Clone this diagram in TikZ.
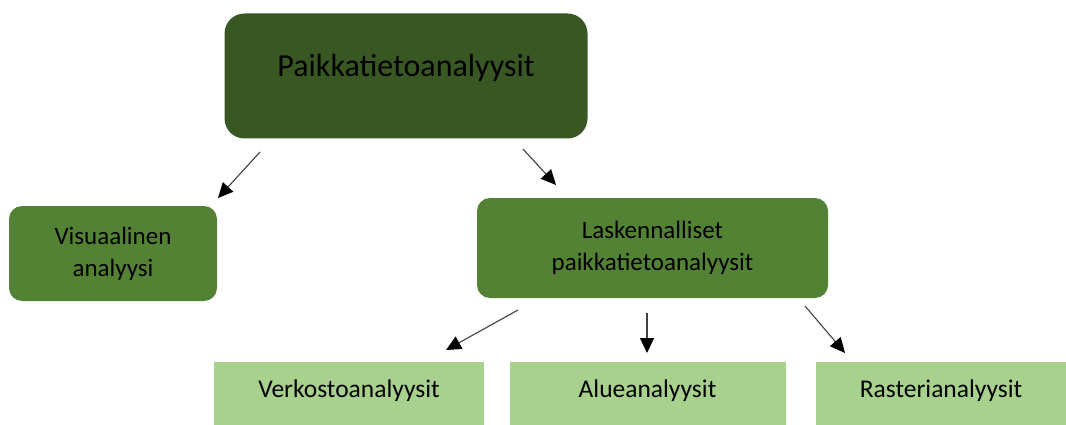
\documentclass[tikz,border=0pt]{standalone}
\usepackage{fontspec}
\setmainfont{Carlito}
\usetikzlibrary{arrows.meta}
\definecolor{gdark}{HTML}{385723}
\definecolor{gmid}{HTML}{548235}
\definecolor{glight}{HTML}{A9D18E}
\definecolor{arrowgray}{HTML}{404040}
\tikzset{
  topbox/.style={fill=gdark, rounded corners=20pt, minimum width=363pt, minimum height=125pt, inner sep=0pt, align=center, font=\fontsize{32}{38}\selectfont},
  midbox/.style={fill=gmid, rounded corners=13pt, inner sep=0pt, align=center, font=\fontsize{25}{32}\selectfont},
  leafbox/.style={fill=glight, minimum height=63pt, inner sep=0pt, align=center, font=\fontsize{25.5}{32}\selectfont},
  conn/.style={draw=arrowgray, line width=1.1pt, -{Triangle[length=15pt,width=14pt,color=black,fill=black]}}
}
\begin{document}
\begin{tikzpicture}[x=1pt,y=-1pt]
\useasboundingbox (0,0) rectangle (1066,425);
\node[topbox] (top) at (406,76) {\raisebox{-1pt}[0pt][0pt]{Paikkatietoanalyysit}};
\node[midbox, minimum width=208pt, minimum height=95pt] (visu) at (113,253.5) {Visuaalinen\\analyysi};
\node[midbox, minimum width=351pt, minimum height=100pt] (lask) at (652.5,248) {Laskennalliset\\paikkatietoanalyysit};
\node[leafbox, minimum width=270pt] (verk) at (349,393.5) {\raisebox{0pt}[0pt][0pt]{\raisebox{-4pt}{Verkostoanalyysit}}};
\node[leafbox, minimum width=276pt] (alue) at (647.5,393.5) {\raisebox{-4pt}[0pt][0pt]{Alueanalyysit}};
\node[leafbox, minimum width=250pt] (rast) at (941,393.5) {\raisebox{-4pt}[0pt][0pt]{Rasterianalyysit}};
\coordinate (a1s) at (260,152);
\coordinate (a1e) at (218,198);
\coordinate (a2s) at (523,149);
\coordinate (a2e) at (556,185);
\coordinate (a3s) at (518,310);
\coordinate (a3e) at (446,350);
\coordinate (a4s) at (647,313);
\coordinate (a4e) at (647,353);
\coordinate (a5s) at (805,306);
\coordinate (a5e) at (845,353);
\draw[conn] (a1s) -- (a1e);
\draw[conn] (a2s) -- (a2e);
\draw[conn] (a3s) -- (a3e);
\draw[conn] (a4s) -- (a4e);
\draw[conn] (a5s) -- (a5e);
\end{tikzpicture}
\end{document}
